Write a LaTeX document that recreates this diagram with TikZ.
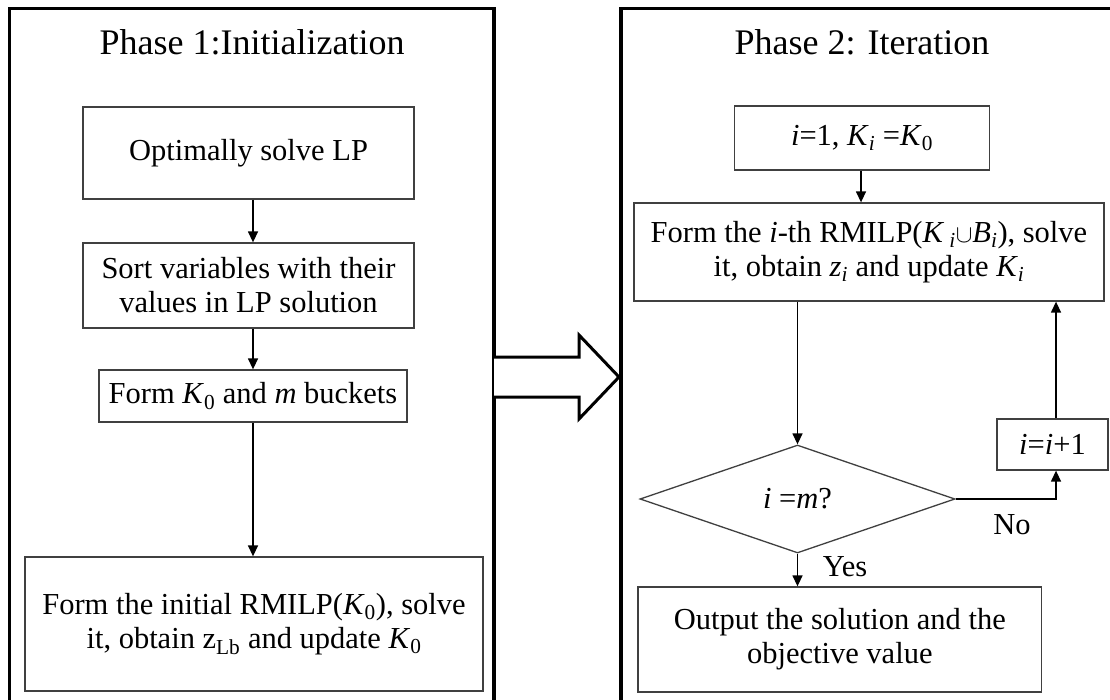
\documentclass[tikz,border=0pt]{standalone}
\usepackage{fontspec}
\setmainfont{Liberation Serif}
\usetikzlibrary{arrows.meta,shapes.geometric}
\newcommand{\bodyfont}{\fontsize{30.5}{34}\selectfont}
\newcommand{\titlefont}{\fontsize{36}{42}\selectfont}
\newcommand{\sbi}{\textsubscript{\textit{i}}}
\newcommand{\sbz}{\textsubscript{0}}
\begin{document}
\begin{tikzpicture}[x=1pt,y=-1pt,
  panel/.style={draw=black,line width=3.5pt},
  stepbox/.style={draw=black!75,line width=1.3pt,inner sep=0pt,align=center,font=\bodyfont},
  decision/.style={draw=black!75,line width=1.3pt,shape=diamond,inner sep=0pt,font=\bodyfont},
  label/.style={inner sep=0pt,font=\bodyfont},
  ttl/.style={inner sep=0pt,font=\titlefont},
  arr/.style={draw=black,line width=1.4pt,-{Triangle[length=11pt,width=10pt]}},
  bigarrow/.style={draw=black,line width=3pt,line join=miter,fill=white}]
\useasboundingbox (0,0) rectangle (1110,700);
\clip (0,0) rectangle (1110,700);
\fill[white] (0,0) rectangle (1110,700);
% panels
\draw[panel] (9.5,8.5) rectangle (494,730);
\draw[panel] (621,8.5) rectangle (1140,730);
% block arrow
\draw[bigarrow] (494,357) -- (579,357) -- (579,335) -- (619,377) -- (579,419) -- (579,397) -- (494,397);
% titles
\node[ttl] (t1) at (252,42) {Phase 1:Initialization};
\node[ttl] (t2) at (862,42) {Phase 2: Iteration};
% left column
\node[stepbox,minimum width=331pt,minimum height=92pt] (b1) at (248.5,153) {Optimally solve LP};
\node[stepbox,minimum width=331pt,minimum height=85pt] (b2) at (248.5,285.5) {Sort variables with their\\values in LP solution};
\node[stepbox,minimum width=308pt,minimum height=52pt] (b3) at (253,396) {Form \textit{K}\sbz{} and \textit{m} buckets};
\node[stepbox,minimum width=458pt,minimum height=134pt] (b4) at (254,624) {Form the initial RMILP(\textit{K}\sbz), solve\\it, obtain z\textsubscript{Lb} and update \textit{K}\sbz};
\draw[arr] (b1.south -| b3.north) -- (b2.north -| b3.north);
\draw[arr] (b2.south -| b3.north) -- (b3.north);
\draw[arr] (b3.south) -- (b4.north -| b3.south);
% right column
\node[stepbox,minimum width=255pt,minimum height=64pt] (r1) at (862,138) {\textit{i}=1, \textit{K}\sbi{} =\textit{K}\sbz};
\node[stepbox,minimum width=470pt,minimum height=98pt] (r2) at (869,252) {Form the \textit{i}-th RMILP(\textit{K}\,\sbi$\cup$\textit{B}\sbi), solve\\it, obtain \textit{z}\sbi{} and update \textit{K}\sbi};
\node[decision,minimum width=315pt,minimum height=108pt,aspect=2.9] (d) at (797.5,499) {\textit{i} =\textit{m}?};
\node[stepbox,minimum width=111pt,minimum height=51pt] (r3) at (1052.5,444.5) {\textit{i}=\textit{i}+1};
\node[stepbox,minimum width=403.5pt,minimum height=105pt] (r4) at (839.8,639.5) {Output the solution and the\\objective value};
\coordinate (ax) at (1056,0);
\coordinate (cx) at (861,0);
\draw[arr] (r1.south -| cx) -- (r2.north -| cx);
\draw[arr] (r2.south -| d.north) -- (d.north);
\draw[arr] (d.east) -- (d.east -| ax) -- (r3.south -| ax);
\draw[arr] (r3.north -| ax) -- (r2.south -| ax);
\draw[arr] (d.south) -- (r4.north -| d.south);
\node[label] (yes) at (845,567) {Yes};
\node[label] (no) at (1012,525) {No};
\end{tikzpicture}
\end{document}
